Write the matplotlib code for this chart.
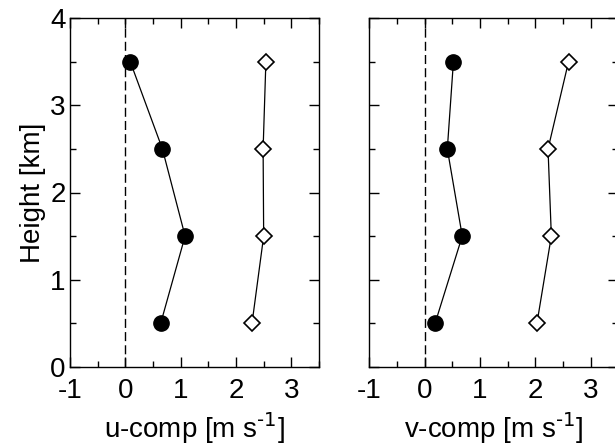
import matplotlib
matplotlib.use("Agg")
import matplotlib.pyplot as plt
from matplotlib.ticker import MultipleLocator

plt.rcParams['font.family'] = ['Liberation Sans', 'DejaVu Sans']
plt.rcParams['mathtext.default'] = 'regular'
plt.rcParams['axes.unicode_minus'] = False

heights = [0.5, 1.5, 2.5, 3.5]
u_filled = [0.64, 1.08, 0.67, 0.09]
u_open = [2.29, 2.50, 2.49, 2.54]
v_filled = [0.19, 0.68, 0.41, 0.52]
v_open = [2.03, 2.29, 2.23, 2.60]
xlabels = [r"u-comp [m s$^{\text{-1}}$]", r"v-comp [m s$^{\text{-1}}$]"]
ylabel = "Height [km]"

W, H = 615, 445
fig = plt.figure(figsize=(W / 100, H / 100), dpi=100)
ax_w, ax_h = 249 / W, 348.4 / H
bottom = (H - 366.7) / H
axes = [fig.add_axes([70 / W, bottom, ax_w, ax_h]),
        fig.add_axes([369.3 / W, bottom, ax_w, ax_h])]

for i, (ax, filled, opn) in enumerate(zip(axes, [u_filled, v_filled], [u_open, v_open])):
    ax.axvline(0, color='black', lw=1.0, dashes=(6.5, 3.0), zorder=1)
    ax.plot(filled, heights, '-o', color='black', lw=0.9, ms=11, zorder=3)
    ax.plot(opn, heights, '-D', color='black', lw=0.9, ms=8, mfc='white',
            mec='black', mew=1.2, zorder=3)
    ax.set_xlim(-1, 3.5)
    ax.set_ylim(0, 4)
    ax.xaxis.set_major_locator(MultipleLocator(1))
    ax.xaxis.set_minor_locator(MultipleLocator(0.5))
    ax.yaxis.set_major_locator(MultipleLocator(1))
    ax.yaxis.set_minor_locator(MultipleLocator(0.5))
    ax.tick_params(which='both', direction='in', top=True, right=True,
                   width=1.0, color='black')
    ax.tick_params(which='major', length=7.5)
    ax.tick_params(which='minor', length=4)
    ax.tick_params(axis='x', which='major', labelsize=20, pad=8)
    ax.tick_params(axis='y', which='major', labelsize=20, pad=3)
    for s in ax.spines.values():
        s.set_linewidth(1.0)
    ax.set_xlabel(xlabels[i], fontsize=20, labelpad=5)
    if i == 0:
        ax.set_ylabel(ylabel, fontsize=20, labelpad=3)
    else:
        ax.tick_params(axis='y', labelleft=False)

fig.savefig("out.png", dpi=100)
